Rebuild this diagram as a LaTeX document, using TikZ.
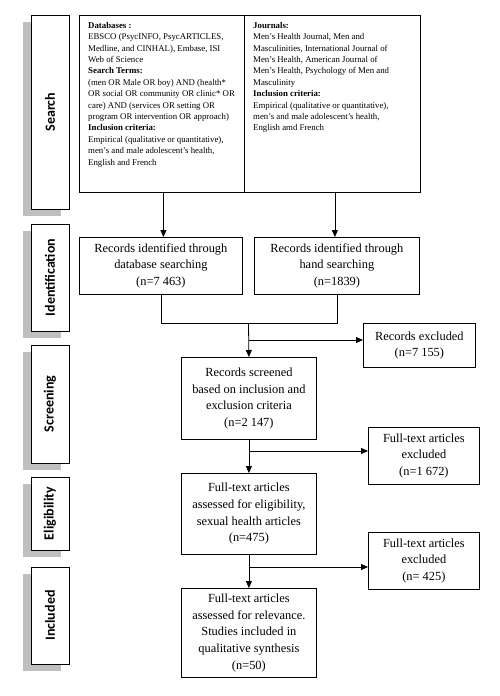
\documentclass[tikz,border=0pt]{standalone}
\usepackage{fontspec}
\setmainfont{Liberation Serif}
\newfontfamily\labelfont{Carlito}
\usepackage{graphicx}
\usetikzlibrary{arrows.meta,shadows}
\begin{document}
\begin{tikzpicture}[x=1pt,y=-1pt,
  box/.style={draw=black, line width=0.8pt, inner sep=0pt},
  main/.style={box, align=center, font=\fontsize{12.4}{16.7}\selectfont},
  small/.style={inner sep=0pt, align=left, font=\fontsize{8.8}{11.4}\selectfont},
  stage/.style={draw=black, line width=0.8pt, fill=white, minimum width=38pt, inner sep=0pt,
    general shadow={fill=black!25, shadow xshift=-8pt, shadow yshift=-7pt},
    font=\labelfont\bfseries\fontsize{14}{17}\selectfont},
  arr/.style={line width=0.8pt, -{Triangle[width=6pt,length=7pt]}},
  ln/.style={line width=0.8pt}]
\useasboundingbox (0,0) rectangle (500,696);

% stage labels
\node[stage, minimum height=194pt] (sSearch) at (50,112) {\rotatebox{90}{Search}};
\node[stage, minimum height=107pt] (sIdent) at (50,277.5) {\rotatebox{90}{Identification}};
\node[stage, minimum height=118pt] (sScreen) at (50,404) {\rotatebox{90}{Screening}};
\node[stage, minimum height=73pt] (sElig) at (50,513.5) {\rotatebox{90}{Eligibility}};
\node[stage, minimum height=97pt] (sIncl) at (50,615.5) {\rotatebox{90}{Included}};

% search boxes
\node[box, minimum width=165pt, minimum height=177pt, anchor=north west] (dbs) at (79,15) {};
\node[box, minimum width=176pt, minimum height=177pt, anchor=north west] (jrn) at (244,15) {};
\node[small, anchor=north west] (dbstext) at (88,22) {\textbf{Databases :}\\
EBSCO (PsycINFO, PsycARTICLES,\\
Medline, and CINHAL), Embase, ISI\\
Web of Science\\
\textbf{Search Terms:}\\
(men OR Male OR boy) AND (health*\\
OR social OR community OR clinic* OR\\
care) AND (services OR setting OR\\
program OR intervention OR approach)\\
\textbf{Inclusion criteria:}\\
Empirical (qualitative or quantitative),\\
men’s and male adolescent’s health,\\
English and French};
\node[small, anchor=north west] (jrntext) at (253,22) {\textbf{Journals:}\\
Men’s Health Journal, Men and\\
Masculinities, International Journal of\\
Men’s Health, American Journal of\\
Men’s Health, Psychology of Men and\\
Masculinity\\
\textbf{Inclusion criteria:}\\
Empirical (qualitative or quantitative),\\
men’s and male adolescent’s health,\\
English amd French};

% identification
\node[main, minimum width=163pt, minimum height=57pt, anchor=north west] (id1) at (79,237) {Records identified through\\database searching\\(n=7 463)};
\node[main, minimum width=165pt, minimum height=57pt, anchor=north west] (id2) at (254,237) {Records identified through\\hand searching\\(n=1839)};

% flow boxes
\node[main, minimum width=112pt, minimum height=44pt, anchor=north west] (exc) at (363,323) {Records excluded\\(n=7 155)};
\node[main, minimum width=135pt, minimum height=82pt, anchor=north west] (scr) at (181,357) {Records screened\\based on inclusion and\\exclusion criteria\\(n=2 147)};
\node[main, minimum width=111pt, minimum height=57pt, anchor=north west] (ex1) at (368,427) {Full-text articles\\excluded\\(n=1 672)};
\node[main, minimum width=135pt, minimum height=81pt, anchor=north west] (elg) at (181,473) {Full-text articles\\assessed for eligibility,\\sexual health articles\\(n=475)};
\node[main, minimum width=111pt, minimum height=57pt, anchor=north west] (ex2) at (368,532) {Full-text articles\\excluded\\(n= 425)};
\node[main, minimum width=135pt, minimum height=89pt, anchor=north west] (inc) at (181,588) {Full-text articles\\assessed for relevance.\\Studies included in\\qualitative synthesis\\(n=50)};

% connectors
\draw[arr] ([xshift=1.5pt]dbs.south) -- ([xshift=1.5pt]dbs.south |- id1.north);
\draw[arr] ([xshift=2.5pt]jrn.south) -- ([xshift=2.5pt]jrn.south |- id2.north);
\coordinate (m) at (248.5,323.5);
\draw[ln] (id1.south) |- (m) -| (id2.south);
\draw[arr] (m) -- (scr.north);
\coordinate (b1) at (248.5,340);
\draw[arr] (b1) -- (b1 -| exc.west);
\draw[arr] (scr.south) -- (elg.north);
\coordinate (b2) at (248.5,451);
\draw[arr] (b2) -- (b2 -| ex1.west);
\draw[arr] (elg.south) -- (inc.north);
\coordinate (b3) at (248.5,567);
\draw[arr] (b3) -- (b3 -| ex2.west);
\end{tikzpicture}
\end{document}
